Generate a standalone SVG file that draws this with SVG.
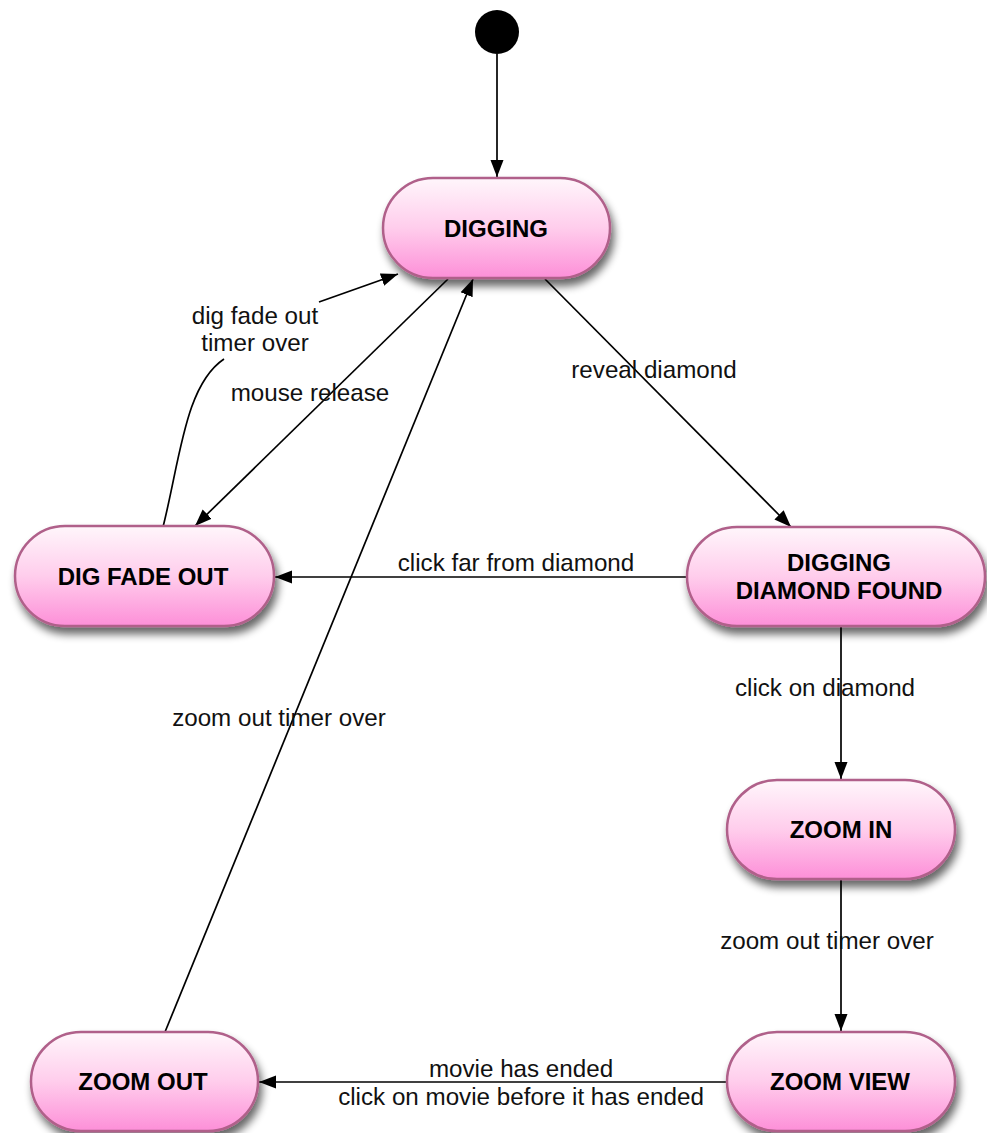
<svg xmlns="http://www.w3.org/2000/svg" width="987" height="1133" viewBox="0 0 987 1133">
  <defs>
    <linearGradient id="stateFill" x1="0" y1="0" x2="0" y2="1">
      <stop offset="0" stop-color="#fff6fb"/>
      <stop offset="0.5" stop-color="#ffcdec"/>
      <stop offset="1" stop-color="#fd8fd8"/>
    </linearGradient>
    <filter id="shadow" x="-20%" y="-20%" width="140%" height="160%">
      <feGaussianBlur in="SourceAlpha" stdDeviation="4.5"/>
      <feOffset dx="3" dy="7" result="blur"/>
      <feComponentTransfer>
        <feFuncA type="linear" slope="0.6"/>
      </feComponentTransfer>
      <feMerge>
        <feMergeNode/>
        <feMergeNode in="SourceGraphic"/>
      </feMerge>
    </filter>
    <marker id="arrow" markerWidth="17" markerHeight="14" refX="17" refY="7" orient="auto" markerUnits="userSpaceOnUse">
      <path d="M0,0.5 L17,7 L0,13.5 z" fill="#000"/>
    </marker>
  </defs>
  <style>
    .state rect { fill: url(#stateFill); stroke: #b0608a; stroke-width: 2.5; filter: url(#shadow); }
    .state text { font-family: "Liberation Sans", Arial, sans-serif; font-weight: bold; font-size: 24px; fill: #000; text-anchor: middle; }
    .edge { fill: none; stroke: #000; stroke-width: 1.7; }
    .label { font-family: "Liberation Sans", Arial, sans-serif; font-size: 24.2px; fill: #111; text-anchor: middle; }
  </style>

  <rect width="987" height="1133" fill="#fff"/>

  <!-- connectors -->
  <g id="connectors">
    <circle id="initial" cx="497" cy="32" r="22" fill="#000"/>
    <path class="edge" d="M497,54 L497,177" marker-end="url(#arrow)"/>
    <path class="edge" d="M545,279 L791,527" marker-end="url(#arrow)"/>
    <path class="edge" d="M448,279 L195,526" marker-end="url(#arrow)"/>
    <path class="edge" d="M163,527 C180,460 185,385 224,359"/>
    <path class="edge" d="M319,302 L398,274" marker-end="url(#arrow)"/>
    <path class="edge" d="M165,1032 L473,279" marker-end="url(#arrow)"/>
    <path class="edge" d="M687,577 L275,577" marker-end="url(#arrow)"/>
    <path class="edge" d="M841,627 L841,779" marker-end="url(#arrow)"/>
    <path class="edge" d="M841,879 L841,1031" marker-end="url(#arrow)"/>
    <path class="edge" d="M727,1082 L259,1082" marker-end="url(#arrow)"/>

    <text class="label" x="255" y="324">dig fade out</text>
    <text class="label" x="255" y="351">timer over</text>
    <text class="label" x="310" y="401">mouse release</text>
    <text class="label" x="654" y="378">reveal diamond</text>
    <text class="label" x="516" y="571">click far from diamond</text>
    <text class="label" x="825" y="696">click on diamond</text>
    <text class="label" x="279" y="726">zoom out timer over</text>
    <text class="label" x="827" y="949">zoom out timer over</text>
    <text class="label" x="521" y="1077">movie has ended</text>
    <text class="label" x="521" y="1105">click on movie before it has ended</text>
  </g>

  <g id="digging" class="state">
    <rect x="383" y="178" width="227" height="100" rx="50" ry="50"/>
    <text x="496" y="237">DIGGING</text>
  </g>
  <g id="dig-fade-out" class="state">
    <rect x="15" y="526" width="259" height="100" rx="50" ry="50"/>
    <text x="143" y="585">DIG FADE OUT</text>
  </g>
  <g id="digging-diamond-found" class="state">
    <rect x="687" y="527" width="298" height="99" rx="50" ry="50"/>
    <text x="839" y="571">DIGGING</text>
    <text x="839" y="599">DIAMOND FOUND</text>
  </g>
  <g id="zoom-in" class="state">
    <rect x="727" y="780" width="228" height="99" rx="50" ry="50"/>
    <text x="841" y="838">ZOOM IN</text>
  </g>
  <g id="zoom-view" class="state">
    <rect x="727" y="1032" width="228" height="99" rx="50" ry="50"/>
    <text x="840" y="1090">ZOOM VIEW</text>
  </g>
  <g id="zoom-out" class="state">
    <rect x="31" y="1032" width="227" height="99" rx="50" ry="50"/>
    <text x="143" y="1090">ZOOM OUT</text>
  </g>
</svg>
